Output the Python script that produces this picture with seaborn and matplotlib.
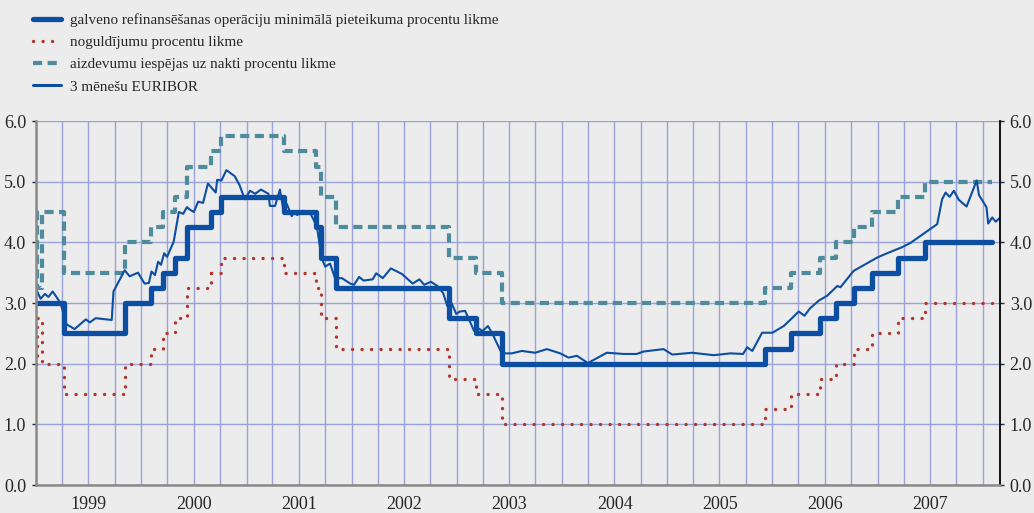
import pandas as pd
import seaborn as sns
import matplotlib.pyplot as plt
import matplotlib.dates as mdates
from matplotlib.lines import Line2D
from matplotlib.ticker import FormatStrFormatter, NullFormatter, FixedLocator

# ECB rate change dates and levels (%)
refi_dates = ["1999-01-01", "1999-04-09", "1999-11-05", "2000-02-04", "2000-03-17",
              "2000-04-28", "2000-06-09", "2000-09-01", "2000-10-06", "2001-05-11",
              "2001-08-31", "2001-09-18", "2001-11-09", "2002-12-06", "2003-03-07",
              "2003-06-06", "2005-12-06", "2006-03-08", "2006-06-15", "2006-08-09",
              "2006-10-11", "2006-12-13", "2007-03-14", "2007-06-13", "2008-02-01"]
refi_rate = [3.00, 2.50, 3.00, 3.25, 3.50, 3.75, 4.25, 4.50, 4.75, 4.50, 4.25, 3.75,
             3.25, 2.75, 2.50, 2.00, 2.25, 2.50, 2.75, 3.00, 3.25, 3.50, 3.75, 4.00, 4.00]

corridor_dates = ["1999-01-01", "1999-01-04", "1999-01-22"] + refi_dates[1:]
deposit_rate = [2.00, 2.75, 2.00, 1.50, 2.00, 2.25, 2.50, 2.75, 3.25, 3.50, 3.75, 3.50,
                3.25, 2.75, 2.25, 1.75, 1.50, 1.00, 1.25, 1.50, 1.75, 2.00, 2.25, 2.50,
                2.75, 3.00, 3.00]
lending_rate = [4.50, 3.25, 4.50, 3.50, 4.00, 4.25, 4.50, 4.75, 5.25, 5.50, 5.75, 5.50,
                5.25, 4.75, 4.25, 3.75, 3.50, 3.00, 3.25, 3.50, 3.75, 4.00, 4.25, 4.50,
                4.75, 5.00, 5.00]

euribor_dates = [
    "1999-01-03", "1999-01-17", "1999-02-01", "1999-02-13", "1999-02-28", "1999-03-27",
    "1999-04-17", "1999-05-15", "1999-06-23", "1999-07-07", "1999-07-27", "1999-09-21",
    "1999-09-27", "1999-11-05", "1999-11-22", "1999-12-21", "2000-01-13", "2000-01-28",
    "2000-02-06", "2000-02-18", "2000-02-29", "2000-03-10", "2000-03-21", "2000-03-31",
    "2000-04-23", "2000-05-11", "2000-05-26", "2000-06-08", "2000-06-18", "2000-07-02",
    "2000-07-17", "2000-08-03", "2000-08-20", "2000-09-16", "2000-09-21", "2000-10-06",
    "2000-10-23", "2000-11-21", "2000-12-08", "2000-12-26", "2001-01-13", "2001-01-31",
    "2001-02-20", "2001-03-18", "2001-03-23", "2001-04-10", "2001-04-27", "2001-05-09",
    "2001-05-21", "2001-06-07", "2001-06-15", "2001-06-26", "2001-07-15", "2001-08-10",
    "2001-09-02", "2001-09-19", "2001-10-01", "2001-10-18", "2001-11-04", "2001-11-28",
    "2001-12-27", "2002-01-09", "2002-01-27", "2002-02-11", "2002-03-15", "2002-03-27",
    "2002-04-19", "2002-05-17", "2002-06-24", "2002-08-01", "2002-08-24", "2002-09-10",
    "2002-10-03", "2002-10-26", "2002-11-15", "2002-11-29", "2002-12-15", "2002-12-30",
    "2003-01-12", "2003-01-30", "2003-03-02", "2003-03-17", "2003-04-01", "2003-04-19",
    "2003-05-03", "2003-06-06", "2003-07-11", "2003-08-15", "2003-09-30", "2003-11-10",
    "2003-12-26", "2004-01-24", "2004-02-22", "2004-03-31", "2004-06-05", "2004-08-02",
    "2004-09-17", "2004-10-10", "2004-12-19", "2005-01-18", "2005-03-28", "2005-06-11",
    "2005-08-08", "2005-09-21", "2005-10-05", "2005-10-23", "2005-11-26", "2006-01-01",
    "2006-02-09", "2006-03-10", "2006-04-02", "2006-04-22", "2006-05-11", "2006-06-11",
    "2006-07-10", "2006-08-14", "2006-08-25", "2006-10-10", "2006-11-20", "2006-12-31",
    "2007-02-03", "2007-03-27", "2007-04-25", "2007-07-27", "2007-08-13", "2007-08-25",
    "2007-09-08", "2007-09-23", "2007-10-10", "2007-11-06", "2007-12-11", "2007-12-19",
    "2008-01-14", "2008-01-20", "2008-02-03", "2008-02-15", "2008-02-29"]
euribor_rate = [
    3.21, 3.07, 3.15, 3.10, 3.19, 3.00,
    2.65, 2.57, 2.73, 2.68, 2.75, 2.72,
    3.19, 3.54, 3.44, 3.50, 3.32, 3.33,
    3.52, 3.46, 3.68, 3.63, 3.82, 3.76,
    4.01, 4.50, 4.47, 4.58, 4.54, 4.50,
    4.67, 4.65, 4.97, 4.82, 5.03, 5.02,
    5.19, 5.09, 4.94, 4.71, 4.85, 4.80,
    4.87, 4.80, 4.60, 4.60, 4.87, 4.53,
    4.63, 4.43, 4.50, 4.45, 4.52, 4.48,
    4.27, 3.74, 3.60, 3.65, 3.41, 3.41,
    3.32, 3.30, 3.43, 3.37, 3.39, 3.49,
    3.41, 3.57, 3.48, 3.32, 3.39, 3.30,
    3.35, 3.28, 3.16, 2.95, 2.99, 2.82,
    2.86, 2.87, 2.54, 2.58, 2.54, 2.62,
    2.51, 2.17, 2.17, 2.21, 2.18, 2.24,
    2.17, 2.10, 2.13, 2.01, 2.18, 2.16,
    2.16, 2.20, 2.24, 2.15, 2.18, 2.14,
    2.17, 2.16, 2.27, 2.21, 2.51, 2.51,
    2.62, 2.75, 2.86, 2.79, 2.91, 3.04,
    3.12, 3.28, 3.26, 3.53, 3.64, 3.75,
    3.82, 3.92, 3.99, 4.30, 4.71, 4.82,
    4.75, 4.85, 4.70, 4.59, 5.02, 4.78,
    4.58, 4.31, 4.41, 4.34, 4.40]

labels = [
    "galveno refinansēšanas operāciju minimālā pieteikuma procentu likme",
    "noguldījumu procentu likme",
    "aizdevumu iespējas uz nakti procentu likme",
    "3 mēnešu EURIBOR",
]

BLUE = "#0b4ea2"
RED = "#b3352b"
TEAL = "#4d8b9d"
BG = "#ececec"
GRID = "#9aa3d8"

sns.set_theme(style="white")
plt.rcParams["font.family"] = ["Liberation Serif", "DejaVu Serif"]

fig = plt.figure(figsize=(10.34, 5.13), dpi=100, facecolor=BG)
ax = fig.add_axes([36 / 1034, 1 - 485 / 513, 964 / 1034, 364 / 513])
ax.set_facecolor(BG)

refi = pd.DataFrame({"d": pd.to_datetime(refi_dates), "v": refi_rate})
corr = pd.DataFrame({"d": pd.to_datetime(corridor_dates + ["2008-02-01"]),
                     "dep": deposit_rate + [deposit_rate[-1]],
                     "lend": lending_rate + [lending_rate[-1]]})
eur = pd.DataFrame({"d": pd.to_datetime(euribor_dates), "v": euribor_rate})

sns.lineplot(data=corr, x="d", y="dep", ax=ax, color=RED, lw=2.4, estimator=None,
             drawstyle="steps-post", linestyle=(0, (0.05, 2.8)),
             solid_capstyle="round", dash_capstyle="round")
sns.lineplot(data=corr, x="d", y="lend", ax=ax, color=TEAL, lw=3.0, estimator=None,
             drawstyle="steps-post", linestyle=(0, (2.2, 1.3)))
sns.lineplot(data=refi, x="d", y="v", ax=ax, color=BLUE, lw=3.8, estimator=None,
             drawstyle="steps-post")
sns.lineplot(data=eur, x="d", y="v", ax=ax, color=BLUE, lw=1.5, estimator=None)

ax.set_xlim(pd.Timestamp("1999-01-01"), pd.Timestamp("2008-03-01"))
ax.set_ylim(0, 6)
ax.set_xlabel("")
ax.set_ylabel("")

# quarter gridlines/ticks as major, year labels as minor (mid-year)
quarters = mdates.date2num(pd.date_range("1999-01-01", "2008-01-01", freq="QS"))
midyears = mdates.date2num(pd.to_datetime([f"{y}-07-02" for y in range(1999, 2008)]))
ax.xaxis.set_major_locator(FixedLocator(quarters))
ax.xaxis.set_major_formatter(NullFormatter())
ax.xaxis.set_minor_locator(FixedLocator(midyears))
ax.xaxis.set_minor_formatter(mdates.DateFormatter("%Y"))
ax.tick_params(axis="x", which="minor", length=0, pad=8, labelsize=13)
ax.tick_params(axis="x", which="major", length=5, width=1.3, color="black", direction="out")
ax.set_yticks(range(0, 7))
ax.yaxis.set_major_formatter(FormatStrFormatter("%.1f"))
ax.tick_params(axis="y", labelsize=13, left=True, right=True, length=3, width=1,
               labelleft=True, labelright=True, pad=4)

ax.grid(which="major", axis="both", color=GRID, lw=1.0)
ax.grid(which="minor", visible=False)
ax.set_axisbelow(True)

for s in ["left", "bottom"]:
    ax.spines[s].set_color("#8a8a8a")
    ax.spines[s].set_linewidth(1.8)
ax.spines["right"].set_color("black")
ax.spines["right"].set_linewidth(1.3)
ax.spines["top"].set_visible(False)

handles = [
    Line2D([], [], color=BLUE, lw=3.8),
    Line2D([], [], color=RED, lw=2.4, linestyle=(0, (0.05, 2.8)), dash_capstyle="round"),
    Line2D([], [], color=TEAL, lw=3.0, linestyle=(0, (2.2, 1.3))),
    Line2D([], [], color=BLUE, lw=2.2),
]
fig.legend(handles, labels, loc="upper left", bbox_to_anchor=(0.02, 0.998),
           frameon=False, fontsize=10.9, handlelength=1.85, handletextpad=0.6,
           labelspacing=0.57, borderaxespad=0.4)

fig.savefig("out.png", dpi=100, facecolor=BG)
